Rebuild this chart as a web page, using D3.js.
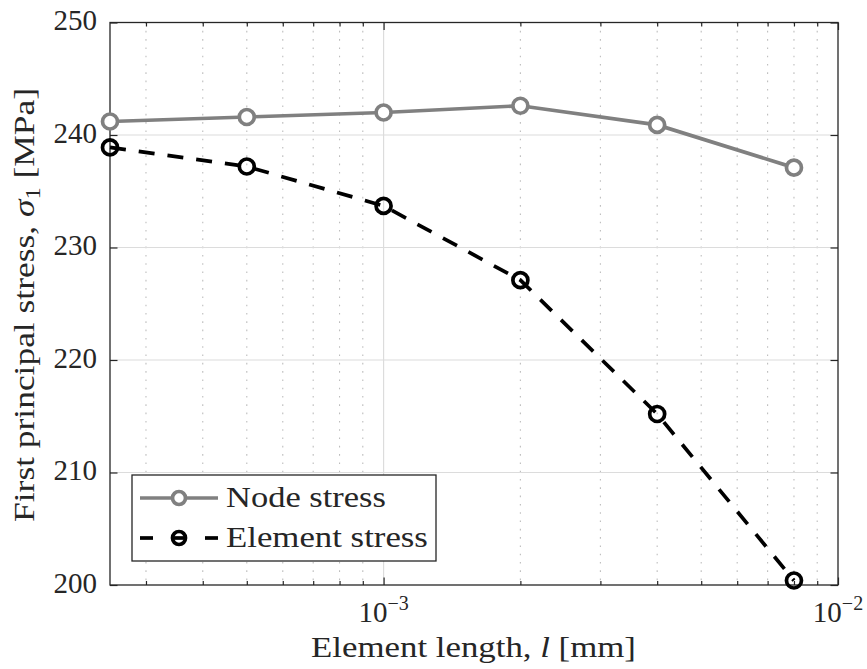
<!DOCTYPE html>
<html>
<head>
<meta charset="utf-8">
<script src="https://cdn.jsdelivr.net/npm/d3@7"></script>
<style>
  html, body { margin: 0; padding: 0; background: #ffffff; }
  svg { display: block; }
</style>
</head>
<body>
<svg id="chart" width="867" height="669"></svg>
<script>
// Mesh convergence study: first principal stress versus element length
const elementLength = [2.5e-4, 5e-4, 1e-3, 2e-3, 4e-3, 8e-3];
const nodeStress    = [241.2, 241.6, 242.0, 242.6, 240.9, 237.1];
const elementStress = [238.9, 237.2, 233.7, 227.1, 215.2, 200.4];
const yTickValues   = [200, 210, 220, 230, 240, 250];
const xMajorTicks   = [1e-3, 1e-2];
const xTickExponents = ["\u22123", "\u22122"];
const seriesNames   = ["Node stress", "Element stress"];

const W = 867, H = 669;
const plot = { left: 110, right: 838, top: 22.5, bottom: 585 };
const axisColor = "#262626";
const fontSize = 29;
const serif = '"Liberation Serif", "Times New Roman", serif';
const lineWidth = 3.7;

function setFont(sel, size) {
  return sel.style("font-family", serif).style("font-size", size + "px").style("fill", axisColor);
}

const svg = d3.select("#chart");
svg.append("rect").attr("width", W).attr("height", H).attr("fill", "#ffffff");

const x = d3.scaleLog().domain([2.5e-4, 1e-2]).range([plot.left, plot.right]);
const y = d3.scaleLinear().domain([200, 250]).range([plot.bottom, plot.top]);

const xAll = x.ticks();                         // 3e-4 ... 1e-2
const isMajor = v => Math.abs(Math.log10(v) - Math.round(Math.log10(v))) < 1e-9;
const xMinor = xAll.filter(v => !isMajor(v));

// ---- grid ----
const grid = svg.append("g");
grid.selectAll("line.minor").data(xMinor).join("line")
  .attr("x1", d => x(d)).attr("x2", d => x(d))
  .attr("y1", plot.top).attr("y2", plot.bottom)
  .attr("stroke", "#bdbdbd").attr("stroke-width", 1.1)
  .attr("stroke-dasharray", "1.6,6.7");
grid.selectAll("line.xmaj").data(xMajorTicks.filter(v => x(v) < plot.right - 1)).join("line")
  .attr("x1", d => x(d)).attr("x2", d => x(d))
  .attr("y1", plot.top).attr("y2", plot.bottom)
  .attr("stroke", "#dcdcdc").attr("stroke-width", 1.2);
grid.selectAll("line.ymaj").data(yTickValues.filter(v => v > 200 && v < 250)).join("line")
  .attr("x1", plot.left).attr("x2", plot.right)
  .attr("y1", d => y(d)).attr("y2", d => y(d))
  .attr("stroke", "#dcdcdc").attr("stroke-width", 1.2);

// ---- axes (ticks point inward, box on all four sides) ----
function styleAxis(g) {
  g.select(".domain").remove();
  g.selectAll(".tick line").attr("stroke", axisColor).attr("stroke-width", 1.2);
}
const tickMajor = 7.5, tickMinor = 4;

const yLeft = svg.append("g").attr("transform", `translate(${plot.left},0)`)
  .call(d3.axisLeft(y).tickValues(yTickValues).tickSize(-tickMajor).tickPadding(13).tickFormat(d3.format("d")));
styleAxis(yLeft);
setFont(yLeft.selectAll(".tick text"), fontSize).attr("dy", "0.25em");

const yRight = svg.append("g").attr("transform", `translate(${plot.right},0)`)
  .call(d3.axisRight(y).tickValues(yTickValues).tickSize(-tickMajor).tickFormat(""));
styleAxis(yRight);

[plot.bottom, plot.top].forEach((pos, k) => {
  const ax = k === 0 ? d3.axisBottom : d3.axisTop;
  const gMin = svg.append("g").attr("transform", `translate(0,${pos})`)
    .call(ax(x).tickValues(xMinor).tickSize(-tickMinor).tickFormat(""));
  styleAxis(gMin);
  const gMaj = svg.append("g").attr("transform", `translate(0,${pos})`)
    .call(ax(x).tickValues(xMajorTicks).tickSize(-tickMajor).tickFormat(""));
  styleAxis(gMaj);
});

// x tick labels as powers of ten
xMajorTicks.forEach((v, i) => {
  const t = setFont(svg.append("text"), fontSize)
    .attr("x", x(v)).attr("y", 622)
    .attr("text-anchor", "middle");
  t.append("tspan").text("10");
  t.append("tspan").style("font-size", "20px").attr("dy", -12).text(xTickExponents[i]);
});

// axes box
svg.append("rect")
  .attr("x", plot.left).attr("y", plot.top)
  .attr("width", plot.right - plot.left).attr("height", plot.bottom - plot.top)
  .attr("fill", "none").attr("stroke", axisColor).attr("stroke-width", 1.3);

// ---- helper: stretch a label horizontally to its set width ----
function fitText(g, textSel, target) {
  const w = textSel.node().getBBox().width;
  const s = target / w;
  const tf = g.attr("transform") || "";
  g.attr("transform", tf + ` scale(${s},1)`);
}

// axis labels
const xlg = svg.append("g").attr("transform", `translate(473.5,657)`);
const xl = setFont(xlg.append("text"), fontSize).attr("text-anchor", "middle");
xl.append("tspan").text("Element length, ");
xl.append("tspan").style("font-style", "italic").text("l");
xl.append("tspan").text(" [mm]");
fitText(xlg, xl, 325);

const ylg = svg.append("g").attr("transform", `translate(34,305) rotate(-90)`);
const yl = setFont(ylg.append("text"), fontSize).attr("text-anchor", "middle");
yl.append("tspan").text("First principal stress, ");
yl.append("tspan").style("font-style", "italic").text("\u03C3");
yl.append("tspan").style("font-size", "20px").attr("dy", 6).text("1");
yl.append("tspan").attr("dy", -6).text(" [MPa]");
fitText(ylg, yl, 434);

// ---- data ----
const lineGen = d3.line().x((d, i) => x(elementLength[i])).y(d => y(d));
const series = [
  { name: seriesNames[0], values: nodeStress, color: "#808080", dash: null, fill: "#ffffff" },
  { name: seriesNames[1], values: elementStress, color: "#000000", dash: "16,13", fill: "none" }
];

series.forEach(s => {
  svg.append("path").datum(s.values)
    .attr("d", lineGen)
    .attr("fill", "none").attr("stroke", s.color).attr("stroke-width", lineWidth)
    .attr("stroke-dasharray", s.dash);
  svg.append("g").selectAll("circle").data(s.values).join("circle")
    .attr("cx", (d, i) => x(elementLength[i])).attr("cy", d => y(d))
    .attr("r", 7.5)
    .attr("fill", s.fill).attr("stroke", s.color).attr("stroke-width", lineWidth);
});

// ---- legend ----
const legend = svg.append("g");
legend.append("rect").attr("x", 132).attr("y", 475).attr("width", 304).attr("height", 86)
  .attr("fill", "#ffffff").attr("stroke", axisColor).attr("stroke-width", 1.3);
const legendRows = [498, 538];
const legendTargets = [160, 202];
series.forEach((s, i) => {
  const ly = legendRows[i];
  const segs = s.dash ? [[140, 153], [172, 186], [205, 218]] : [[140, 218]];
  segs.forEach(([a, b]) => {
    legend.append("line").attr("x1", a).attr("x2", b).attr("y1", ly).attr("y2", ly)
      .attr("stroke", s.color).attr("stroke-width", lineWidth);
  });
  legend.append("circle").attr("cx", 179).attr("cy", ly).attr("r", 6.5)
    .attr("fill", s.fill).attr("stroke", s.color).attr("stroke-width", lineWidth);
  const tg = legend.append("g").attr("transform", `translate(226,${ly + 9})`);
  const tt = setFont(tg.append("text"), fontSize).text(s.name);
  fitText(tg, tt, legendTargets[i]);
});
</script>
</body>
</html>
